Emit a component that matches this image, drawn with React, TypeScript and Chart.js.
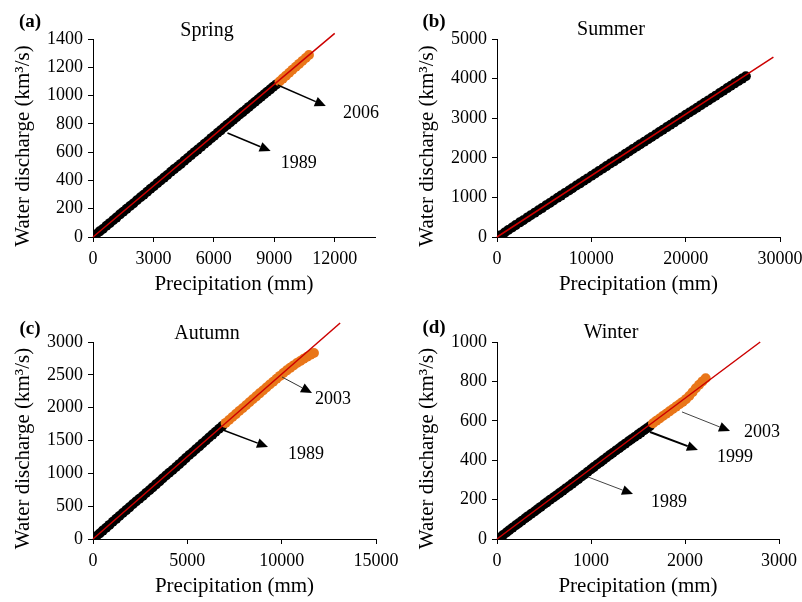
import React, { useEffect, useRef } from "react";
import { Chart, registerables } from "chart.js";

Chart.register(...registerables);

const FONT = "'Liberation Serif', 'Times New Roman', serif";
const RED = "#CC0000";
const ORANGE = "#E97619";
const W = 401;
const H = 301;

// ---------- (a) Spring ----------
const springBlackX = [160, 330, 490, 670, 830, 1000, 1160, 1340, 1500, 1670, 1840, 2000, 2180, 2360, 2520, 2690, 2860, 3020, 3200, 3360, 3530, 3690, 3870, 4030, 4200, 4360, 4540, 4700, 4870, 5040, 5200, 5370, 5540, 5700, 5870, 6020, 6190, 6340, 6500, 6660, 6810, 6970, 7120, 7280, 7430, 7590, 7740, 7900, 8050, 8200, 8350, 8500, 8650, 8800, 8950, 9100];
const springBlackY = [20, 40, 57, 80, 98, 119, 137, 160, 178, 199, 219, 237, 260, 281, 299, 320, 341, 359, 381, 400, 420, 438, 461, 480, 499, 517, 540, 558, 579, 600, 618, 638, 659, 677, 699, 716, 737, 754, 774, 793, 810, 829, 847, 866, 883, 902, 920, 939, 956, 974, 992, 1009, 1027, 1044, 1062, 1079];
const springOrangeX = [9260, 9420, 9580, 9740, 9900, 10070, 10230, 10390, 10560, 10720];
const springOrangeY = [1099, 1120, 1141, 1161, 1182, 1204, 1224, 1245, 1266, 1287];
const springFitX = [0, 12000];
const springFitY = [0, 1440];
const springXTicks = [0, 3000, 6000, 9000, 12000];
const springYTicks = [0, 200, 400, 600, 800, 1000, 1200, 1400];

// ---------- (b) Summer ----------
const summerBlackX = [380, 820, 1190, 1610, 1980, 2420, 2790, 3230, 3580, 4010, 4400, 4770, 5210, 5600, 5990, 6430, 6790, 7200, 7630, 7990, 8420, 8800, 9210, 9600, 10030, 10410, 10800, 11230, 11610, 12020, 12400, 12820, 13200, 13620, 14010, 14400, 14830, 15200, 15610, 16020, 16390, 16810, 17200, 17590, 18010, 18400, 18790, 19210, 19600, 20010, 20400, 20790, 21200, 21610, 22000, 22410, 22800, 23190, 23610, 24000, 24410, 24800, 25190, 25600, 25990, 26380];
const summerBlackY = [45, 115, 175, 240, 300, 370, 425, 495, 550, 615, 675, 730, 800, 860, 920, 990, 1045, 1110, 1175, 1230, 1300, 1355, 1420, 1480, 1545, 1605, 1665, 1730, 1790, 1855, 1910, 1975, 2035, 2100, 2160, 2220, 2285, 2345, 2405, 2470, 2525, 2590, 2650, 2710, 2775, 2835, 2895, 2960, 3020, 3085, 3145, 3200, 3265, 3330, 3390, 3450, 3510, 3570, 3635, 3695, 3760, 3820, 3880, 3940, 4000, 4060];
const summerOrangeX: number[] = [];
const summerOrangeY: number[] = [];
const summerFitX = [0, 29300];
const summerFitY = [0, 4540];
const summerXTicks = [0, 10000, 20000, 30000];
const summerYTicks = [0, 1000, 2000, 3000, 4000, 5000];

// ---------- (c) Autumn ----------
const autumnBlackX = [170, 350, 520, 700, 870, 1050, 1230, 1400, 1580, 1760, 1930, 2110, 2280, 2460, 2640, 2810, 2990, 3160, 3340, 3520, 3690, 3870, 4040, 4220, 4400, 4570, 4750, 4920, 5100, 5280, 5450, 5630, 5800, 5980, 6150, 6330, 6500, 6680, 6850];
const autumnBlackY = [40, 85, 128, 172, 215, 262, 307, 350, 396, 440, 482, 528, 572, 612, 655, 700, 742, 786, 832, 876, 920, 966, 1008, 1050, 1096, 1140, 1186, 1232, 1278, 1322, 1366, 1410, 1456, 1500, 1545, 1590, 1634, 1678, 1722];
const autumnOrangeX = [7030, 7210, 7390, 7570, 7750, 7930, 8110, 8290, 8470, 8650, 8830, 9010, 9190, 9370, 9550, 9730, 9910, 10090, 10270, 10450, 10630, 10810, 10990, 11170, 11350, 11530, 11710];
const autumnOrangeY = [1768, 1812, 1858, 1902, 1948, 1992, 2038, 2082, 2128, 2172, 2218, 2262, 2306, 2352, 2396, 2440, 2484, 2528, 2568, 2606, 2644, 2680, 2712, 2746, 2776, 2806, 2832];
const autumnFitX = [0, 13100];
const autumnFitY = [0, 3290];
const autumnXTicks = [0, 5000, 10000, 15000];
const autumnYTicks = [0, 500, 1000, 1500, 2000, 2500, 3000];

// ---------- (d) Winter ----------
const winterBlackX = [30, 65, 100, 130, 165, 200, 230, 265, 300, 330, 365, 400, 430, 465, 500, 530, 565, 600, 630, 665, 700, 730, 765, 800, 830, 865, 900, 930, 965, 1000, 1030, 1065, 1100, 1130, 1165, 1200, 1230, 1265, 1300, 1330, 1365, 1400, 1430, 1465, 1500, 1530, 1565, 1595, 1625];
const winterBlackY = [8, 20, 33, 44, 57, 70, 80, 93, 105, 116, 128, 140, 151, 163, 176, 186, 199, 211, 221, 233, 245, 256, 268, 281, 292, 304, 317, 328, 341, 354, 365, 378, 390, 401, 414, 426, 437, 449, 461, 472, 484, 496, 506, 518, 530, 540, 552, 562, 572];
const winterOrangeX = [1660, 1695, 1730, 1765, 1800, 1835, 1870, 1905, 1940, 1975, 2010, 2045, 2080, 2115, 2150, 2185, 2220];
const winterOrangeY = [588, 600, 612, 624, 636, 648, 660, 672, 684, 696, 710, 726, 745, 765, 783, 800, 816];
const winterFitX = [0, 2800];
const winterFitY = [0, 1000];
const winterXTicks = [0, 1000, 2000, 3000];
const winterYTicks = [0, 200, 400, 600, 800, 1000];

// ---------- annotations (label, arrow start, arrow tip, text centre; data units) ----------
type Note = { label: string; x0: number; y0: number; x1: number; y1: number; tx: number; ty: number; w: number; color: string };
const springNotes: Note[] = [
  { label: "2006", x0: 9167, y0: 1075, x1: 11559, y1: 926, tx: 13302, ty: 877, w: 1.5, color: "#000" },
  { label: "1989", x0: 6676, y0: 735, x1: 8818, y1: 608, tx: 10214, ty: 523, w: 1.5, color: "#000" },
];
const summerNotes: Note[] = [];
const autumnNotes: Note[] = [
  { label: "2003", x0: 10018, y0: 2467, x1: 11608, y1: 2223, tx: 12721, ty: 2132, w: 1, color: "#333" },
  { label: "1989", x0: 6890, y0: 1660, x1: 9276, y1: 1401, tx: 11290, ty: 1294, w: 1.5, color: "#000" },
];
const winterNotes: Note[] = [
  { label: "2003", x0: 1968, y0: 645, x1: 2479, y1: 548, tx: 2819, ty: 543, w: 1, color: "#444" },
  { label: "1999", x0: 1628, y0: 543, x1: 2138, y1: 452, tx: 2532, ty: 416, w: 2, color: "#000" },
  { label: "1989", x0: 968, y0: 315, x1: 1447, y1: 228, tx: 1830, ty: 188, w: 1, color: "#444" },
];

type Panel = {
  letter: string; season: string;
  bx: number[]; by: number[]; ox: number[]; oy: number[]; fx: number[]; fy: number[];
  xTicks: number[]; yTicks: number[]; xMax: number; yMax: number;
  notes: Note[];
  pos: [number, number];
  area: { left: number; top: number; right: number; bottom: number };
  letterPos: [number, number]; seasonPos: [number, number];
};

const panels: Panel[] = [
  { letter: "(a)", season: "Spring", bx: springBlackX, by: springBlackY, ox: springOrangeX, oy: springOrangeY, fx: springFitX, fy: springFitY,
    xTicks: springXTicks, yTicks: springYTicks, xMax: 14000, yMax: 1400, notes: springNotes,
    pos: [0, 0], area: { left: 93, top: 39, right: 375, bottom: 237 }, letterPos: [30, 22], seasonPos: [207, 31] },
  { letter: "(b)", season: "Summer", bx: summerBlackX, by: summerBlackY, ox: summerOrangeX, oy: summerOrangeY, fx: summerFitX, fy: summerFitY,
    xTicks: summerXTicks, yTicks: summerYTicks, xMax: 30000, yMax: 5000, notes: summerNotes,
    pos: [401, 0], area: { left: 96, top: 39, right: 379, bottom: 237 }, letterPos: [33, 22], seasonPos: [210, 30] },
  { letter: "(c)", season: "Autumn", bx: autumnBlackX, by: autumnBlackY, ox: autumnOrangeX, oy: autumnOrangeY, fx: autumnFitX, fy: autumnFitY,
    xTicks: autumnXTicks, yTicks: autumnYTicks, xMax: 15000, yMax: 3000, notes: autumnNotes,
    pos: [0, 301], area: { left: 93, top: 41, right: 376, bottom: 238 }, letterPos: [30, 28], seasonPos: [207, 33] },
  { letter: "(d)", season: "Winter", bx: winterBlackX, by: winterBlackY, ox: winterOrangeX, oy: winterOrangeY, fx: winterFitX, fy: winterFitY,
    xTicks: winterXTicks, yTicks: winterYTicks, xMax: 3000, yMax: 1000, notes: winterNotes,
    pos: [401, 301], area: { left: 96, top: 41, right: 378, bottom: 238 }, letterPos: [33, 27], seasonPos: [210, 32] },
];

const zip = (xs: number[], ys: number[]) => xs.map((x, i) => ({ x, y: ys[i] }));

function drawArrow(ctx: CanvasRenderingContext2D, x0: number, y0: number, x1: number, y1: number, w: number, color: string) {
  const ang = Math.atan2(y1 - y0, x1 - x0);
  const L = 11, HW = 5;
  const bx = x1 - L * Math.cos(ang), by = y1 - L * Math.sin(ang);
  ctx.strokeStyle = color;
  ctx.lineWidth = w;
  ctx.beginPath();
  ctx.moveTo(x0, y0);
  ctx.lineTo(bx, by);
  ctx.stroke();
  ctx.fillStyle = "#000";
  ctx.beginPath();
  ctx.moveTo(x1, y1);
  ctx.lineTo(bx + HW * Math.sin(ang), by - HW * Math.cos(ang));
  ctx.lineTo(bx - HW * Math.sin(ang), by + HW * Math.cos(ang));
  ctx.closePath();
  ctx.fill();
}

const notesPlugin = {
  id: "notes",
  afterDatasetsDraw(chart: any, _args: any, opts: any) {
    const { ctx, scales } = chart;
    const notes: Note[] = opts.notes || [];
    ctx.save();
    for (const n of notes) {
      const x0 = scales.x.getPixelForValue(n.x0), y0 = scales.y.getPixelForValue(n.y0);
      const x1 = scales.x.getPixelForValue(n.x1), y1 = scales.y.getPixelForValue(n.y1);
      drawArrow(ctx, x0, y0, x1, y1, n.w, n.color);
      ctx.fillStyle = "#000";
      ctx.font = `18px ${FONT}`;
      ctx.textAlign = "center";
      ctx.textBaseline = "middle";
      ctx.fillText(n.label, scales.x.getPixelForValue(n.tx), scales.y.getPixelForValue(n.ty));
    }
    ctx.restore();
  },
};

const textPlugin = {
  id: "panelText",
  afterDraw(chart: any, _args: any, opts: any) {
    const { ctx, chartArea: a } = chart;
    const p: Panel = opts.panel;
    ctx.save();
    ctx.fillStyle = "#000";
    ctx.textAlign = "center";
    ctx.textBaseline = "middle";
    ctx.font = `bold 19px ${FONT}`;
    ctx.fillText(p.letter, p.letterPos[0], p.letterPos[1]);
    ctx.font = `20px ${FONT}`;
    ctx.fillText(p.season, p.seasonPos[0], p.seasonPos[1]);
    ctx.font = `21px ${FONT}`;
    ctx.fillText("Precipitation (mm)", (a.left + a.right) / 2, a.bottom + 47);
    ctx.translate(a.left - 70, (a.top + a.bottom) / 2 + 8);
    ctx.rotate(-Math.PI / 2);
    ctx.fillText("Water discharge (km³/s)", 0, 0);
    ctx.restore();
  },
};

function PanelChart({ p }: { p: Panel }) {
  const ref = useRef<HTMLCanvasElement>(null);
  useEffect(() => {
    const tickFont = { family: FONT, size: 18 };
    const chart = new Chart(ref.current as HTMLCanvasElement, {
      type: "scatter",
      data: {
        datasets: [
          { type: "line", data: zip(p.fx, p.fy), borderColor: RED, borderWidth: 1.5, pointRadius: 0, showLine: true, clip: false, order: 0, fill: false } as any,
          { data: zip(p.ox, p.oy), backgroundColor: ORANGE, borderColor: ORANGE, pointRadius: 5, borderWidth: 0, order: 1 },
          { data: zip(p.bx, p.by), backgroundColor: "#000", borderColor: "#000", pointRadius: 5, borderWidth: 0, order: 2 },
        ],
      },
      options: {
        responsive: false,
        animation: false,
        devicePixelRatio: 1,
        events: [],
        layout: { padding: { left: 0, top: p.area.top, right: W - p.area.right, bottom: 0 } },
        plugins: {
          legend: { display: false },
          tooltip: { enabled: false },
          notes: { notes: p.notes },
          panelText: { panel: p },
        } as any,
        scales: {
          x: {
            type: "linear",
            min: 0,
            max: p.xMax,
            afterBuildTicks: (s: any) => { s.ticks = p.xTicks.map((v) => ({ value: v })); },
            afterFit: (s: any) => { s.height = H - p.area.bottom; s.paddingLeft = 0; s.paddingRight = 0; },
            ticks: { autoSkip: false, maxRotation: 0, font: tickFont, color: "#000", padding: 6, callback: (v: any) => String(v) },
            grid: { drawOnChartArea: false, drawTicks: true, tickLength: 5, color: "#000" },
            border: { display: true, color: "#000", width: 1 },
          },
          y: {
            type: "linear",
            min: 0,
            max: p.yMax,
            afterBuildTicks: (s: any) => { s.ticks = p.yTicks.map((v) => ({ value: v })); },
            afterFit: (s: any) => { s.width = p.area.left; s.paddingTop = 0; s.paddingBottom = 0; },
            ticks: { autoSkip: false, font: tickFont, color: "#000", padding: 5, callback: (v: any) => String(v) },
            grid: { drawOnChartArea: false, drawTicks: true, tickLength: 5, color: "#000" },
            border: { display: true, color: "#000", width: 1 },
          },
        },
      },
      plugins: [notesPlugin, textPlugin],
    } as any);
    return () => chart.destroy();
  }, [p]);
  return (
    <canvas
      ref={ref}
      width={W}
      height={H}
      style={{ position: "absolute", left: p.pos[0], top: p.pos[1], width: W, height: H }}
    />
  );
}

export default function App() {
  return (
    <div style={{ position: "fixed", left: 0, top: 0, width: 802, height: 602, background: "#fff" }}>
      {panels.map((p) => (
        <PanelChart key={p.letter} p={p} />
      ))}
    </div>
  );
}
